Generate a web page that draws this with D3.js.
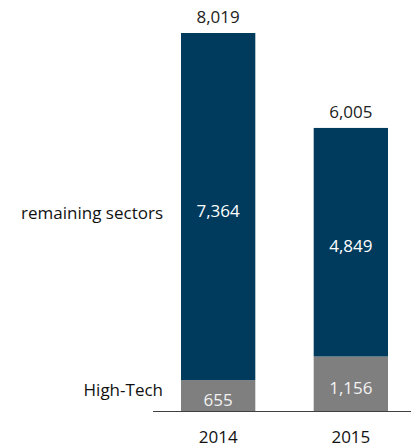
<!DOCTYPE html>
<html>
<head>
<meta charset="utf-8">
<script src="https://cdn.jsdelivr.net/npm/d3@7"></script>
<style>
  body { margin: 0; background: #fff; }
  text { font-family: 'Open Sans', sans-serif; }
</style>
</head>
<body>
<div id="chart"></div>
<script>
// --- Data ---
const years = ['2014', '2015'];
const highTech = [655, 1156];
const remaining = [7364, 4849];
const totals = [8019, 6005];
const seriesNames = ['High-Tech', 'remaining sectors'];

const W = 411, H = 448;
const margin = { top: 33, right: 0, bottom: 37, left: 153 };
const innerW = W - margin.left - margin.right;
const innerH = H - margin.top - margin.bottom;
const fontSize = 17;

const svg = d3.select('#chart').append('svg')
    .attr('width', W)
    .attr('height', H);

const g = svg.append('g')
    .attr('transform', `translate(${margin.left}, ${margin.top})`);

const x = d3.scaleBand()
    .domain(years)
    .range([28, 235])
    .paddingInner(0.44)
    .paddingOuter(0);

const y = d3.scaleLinear()
    .domain([0, d3.max(totals)])
    .range([innerH, 0]);

const rows = years.map((yr, i) => ({ year: yr, 'High-Tech': highTech[i], 'remaining sectors': remaining[i] }));
const stacked = d3.stack().keys(seriesNames)(rows);
const colors = { 'High-Tech': '#7f7f7f', 'remaining sectors': '#003a5c' };
const labelColors = { 'High-Tech': '#f2f2f2', 'remaining sectors': '#ffffff' };

// Bars
stacked.forEach(layer => {
    g.selectAll(null)
        .data(layer)
        .enter()
        .append('rect')
        .attr('x', d => x(d.data.year))
        .attr('y', d => y(d[1]))
        .attr('width', x.bandwidth())
        .attr('height', d => y(d[0]) - y(d[1]))
        .attr('fill', colors[layer.key]);

    // segment labels
    g.selectAll(null)
        .data(layer)
        .enter()
        .append('text')
        .attr('x', d => x(d.data.year) + x.bandwidth() / 2)
        .attr('y', d => (y(d[0]) + y(d[1])) / 2 + 4)
        .attr('dy', '0.35em')
        .attr('text-anchor', 'middle')
        .attr('font-size', fontSize)
        .attr('fill', labelColors[layer.key])
        .text(d => d3.format(',')(d[1] - d[0]));
});

// Totals above bars
g.selectAll('.total')
    .data(totals)
    .enter()
    .append('text')
    .attr('class', 'total')
    .attr('x', (d, i) => x(years[i]) + x.bandwidth() / 2)
    .attr('y', d => y(d) - 10)
    .attr('text-anchor', 'middle')
    .attr('font-size', fontSize)
    .attr('fill', '#222')
    .text(d => d3.format(',')(d));

// Series labels at left, next to the 2014 bar
const first = stacked.map(layer => layer[0]);
g.selectAll('.series')
    .data(first)
    .enter()
    .append('text')
    .attr('class', 'series')
    .attr('x', 10)
    .attr('y', (d, i) => (y(d[0]) + y(d[1])) / 2 + (i === 0 ? -6 : 6))
    .attr('dy', '0.35em')
    .attr('text-anchor', 'end')
    .attr('font-size', fontSize)
    .attr('fill', '#111')
    .text((d, i) => seriesNames[i]);

// X axis
const xAxis = g.append('g')
    .attr('transform', `translate(0, ${innerH})`)
    .call(d3.axisBottom(x).tickSize(0).tickPadding(20));
xAxis.select('.domain')
    .attr('d', `M0,0.5H${innerW}`)
    .attr('stroke', '#404040');
xAxis.selectAll('text')
    .style('font-size', fontSize + 'px')
    .style('font-family', 'Open Sans')
    .attr('fill', '#111');
</script>
</body>
</html>
